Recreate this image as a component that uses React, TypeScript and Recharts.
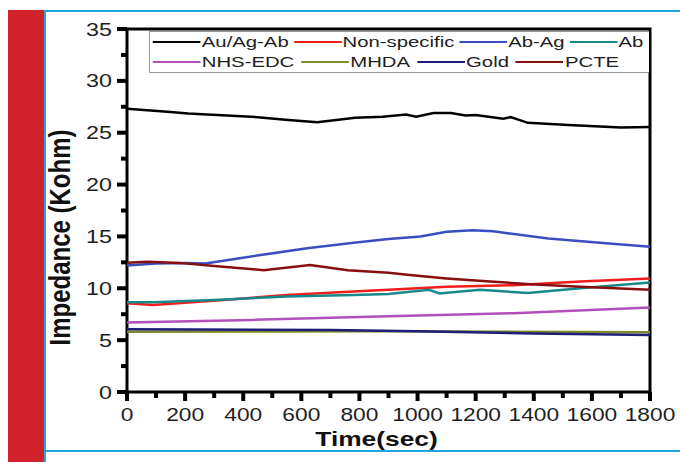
import React from 'react';
import { LineChart, Line, XAxis, YAxis, ReferenceArea } from 'recharts';

type Pt = { t: number; v: number };

// values (time in sec, impedance in Kohm)
const auAgAb: Pt[] = [
  { t: 0, v: 27.3 }, { t: 150, v: 27.0 }, { t: 210, v: 26.85 }, { t: 450, v: 26.5 },
  { t: 545, v: 26.25 }, { t: 655, v: 26.0 }, { t: 785, v: 26.45 }, { t: 880, v: 26.55 },
  { t: 960, v: 26.75 }, { t: 995, v: 26.55 }, { t: 1055, v: 26.9 }, { t: 1115, v: 26.9 },
  { t: 1165, v: 26.65 }, { t: 1200, v: 26.7 }, { t: 1295, v: 26.35 }, { t: 1320, v: 26.5 },
  { t: 1380, v: 25.95 }, { t: 1520, v: 25.75 }, { t: 1700, v: 25.5 }, { t: 1800, v: 25.55 },
];
const nonSpecific: Pt[] = [
  { t: 0, v: 8.55 }, { t: 90, v: 8.4 }, { t: 320, v: 8.85 }, { t: 550, v: 9.35 },
  { t: 780, v: 9.7 }, { t: 900, v: 9.85 }, { t: 1100, v: 10.15 }, { t: 1330, v: 10.3 },
  { t: 1560, v: 10.65 }, { t: 1800, v: 10.95 },
];
const abAg: Pt[] = [
  { t: 0, v: 12.2 }, { t: 100, v: 12.4 }, { t: 200, v: 12.45 }, { t: 270, v: 12.4 },
  { t: 460, v: 13.2 }, { t: 620, v: 13.85 }, { t: 780, v: 14.4 }, { t: 900, v: 14.75 },
  { t: 1010, v: 15.0 }, { t: 1100, v: 15.45 }, { t: 1190, v: 15.6 }, { t: 1260, v: 15.5 },
  { t: 1310, v: 15.3 }, { t: 1450, v: 14.8 }, { t: 1670, v: 14.3 }, { t: 1800, v: 14.0 },
];
const ab: Pt[] = [
  { t: 0, v: 8.65 }, { t: 90, v: 8.65 }, { t: 320, v: 8.9 }, { t: 550, v: 9.2 },
  { t: 780, v: 9.35 }, { t: 900, v: 9.45 }, { t: 1040, v: 9.85 }, { t: 1075, v: 9.5 },
  { t: 1215, v: 9.85 }, { t: 1380, v: 9.55 }, { t: 1560, v: 10.0 }, { t: 1800, v: 10.55 },
];
const nhsEdc: Pt[] = [
  { t: 0, v: 6.7 }, { t: 430, v: 6.95 }, { t: 900, v: 7.3 }, { t: 1330, v: 7.6 }, { t: 1800, v: 8.15 },
];
const mhda: Pt[] = [
  { t: 0, v: 5.8 }, { t: 900, v: 5.85 }, { t: 1800, v: 5.75 },
];
const gold: Pt[] = [
  { t: 0, v: 6.05 }, { t: 700, v: 5.98 }, { t: 1000, v: 5.85 }, { t: 1400, v: 5.65 }, { t: 1800, v: 5.5 },
];
const pcte: Pt[] = [
  { t: 0, v: 12.45 }, { t: 70, v: 12.55 }, { t: 180, v: 12.45 }, { t: 300, v: 12.15 },
  { t: 470, v: 11.75 }, { t: 630, v: 12.25 }, { t: 760, v: 11.75 }, { t: 900, v: 11.5 },
  { t: 965, v: 11.3 }, { t: 1100, v: 10.95 }, { t: 1250, v: 10.65 }, { t: 1390, v: 10.4 },
  { t: 1560, v: 10.15 }, { t: 1800, v: 9.85 },
];

const xTicks = [0, 100, 200, 300, 400, 500, 600, 700, 800, 900, 1000, 1100, 1200, 1300, 1400, 1500, 1600, 1700, 1800];
const xLabels = [0, 200, 400, 600, 800, 1000, 1200, 1400, 1600, 1800];
const yTicks = [0, 2.5, 5, 7.5, 10, 12.5, 15, 17.5, 20, 22.5, 25, 27.5, 30, 32.5, 35];
const yLabels = [0, 5, 10, 15, 20, 25, 30, 35];

const series = [
  { name: 'Au/Ag-Ab', data: auAgAb, color: '#000000' },
  { name: 'Non-specific', data: nonSpecific, color: '#f21d1d' },
  { name: 'Ab-Ag', data: abAg, color: '#3a4ec2' },
  { name: 'Ab', data: ab, color: '#16898a' },
  { name: 'NHS-EDC', data: nhsEdc, color: '#b34fba' },
  { name: 'MHDA', data: mhda, color: '#7f8a2c' },
  { name: 'Gold', data: gold, color: '#1f1f78' },
  { name: 'PCTE', data: pcte, color: '#860f10' },
];

const FONT = '"Liberation Sans", Arial, Helvetica, sans-serif';
const INK = '#1e1e1e';

// tick marks drawn as small rects, outward from the frame
const XTick = (props: any) => {
  const x = Number(props.x);
  const y = Number(props.y);
  const value = props.payload.value;
  const major = xLabels.includes(value);
  return (
    <g>
      <rect x={x - 2} y={y} width={4} height={major ? 9 : 6} fill="#000" />
      {major && (
        <g transform={`translate(${x},${y + 23}) scale(1.3,1)`}>
          <text textAnchor="middle" dominantBaseline="central" fontSize={17.5} fill={INK} fontFamily={FONT}>
            {value}
          </text>
        </g>
      )}
    </g>
  );
};

const YTick = (props: any) => {
  const x = Number(props.x);
  const y = Number(props.y);
  const value = props.payload.value;
  const major = yLabels.includes(value);
  const len = major ? 10 : 6;
  return (
    <g>
      <rect x={x - len} y={y - 2} width={len} height={4} fill="#000" />
      {major && (
        <g transform={`translate(${x - 15},${y}) scale(1.26,1)`}>
          <text textAnchor="end" dominantBaseline="central" fontSize={18.5} fill={INK} fontFamily={FONT}>
            {value}
          </text>
        </g>
      )}
    </g>
  );
};

const XTitle = (props: any) => {
  const { x, y, width } = props.viewBox;
  return (
    <g transform={`translate(${x + width / 2 - 12},${y + 54}) scale(1.35,1)`}>
      <text textAnchor="middle" fontSize={19.5} fontWeight="bold" fill="#111" fontFamily={FONT}>
        Time(sec)
      </text>
    </g>
  );
};

const YTitle = (props: any) => {
  const { x, y, height } = props.viewBox;
  return (
    <g transform={`translate(${x - 66},${y + height / 2 + 27}) scale(1.2,1) rotate(-90)`}>
      <text textAnchor="middle" dominantBaseline="central" fontSize={24} fontWeight="bold" fill="#111" fontFamily={FONT}>
        Impedance (Kohm)
      </text>
    </g>
  );
};

const LegendBox = () => (
  <div
    style={{
      position: 'absolute',
      left: 149,
      top: 31,
      width: 499,
      height: 40,
      borderTop: '1px solid #999',
      borderLeft: '1px solid #999',
      borderBottom: '1px solid #999',
      background: '#fff',
      overflow: 'hidden',
    }}
  >
    {[series.slice(0, 4), series.slice(4)].map((row, ri) => (
      <div
        key={ri}
        style={{
          display: 'flex',
          alignItems: 'center',
          height: 20,
          transform: 'scaleX(1.4)',
          transformOrigin: 'left center',
          fontFamily: FONT,
          fontSize: 14.5,
          color: INK,
          whiteSpace: 'nowrap',
          paddingLeft: 2,
        }}
      >
        {row.map((s) => (
          <div key={s.name} style={{ display: 'flex', alignItems: 'center', marginRight: ri === 0 ? 3.5 : 5 }}>
            <span style={{ display: 'inline-block', width: 34, height: 2.5, background: s.color }} />
            <span style={{ marginLeft: 1 }}>{s.name}</span>
          </div>
        ))}
      </div>
    ))}
  </div>
);

export default function App() {
  return (
    <div
      style={{
        position: 'fixed',
        left: 0,
        top: 0,
        width: 680,
        height: 462,
        background: '#fff',
        overflow: 'hidden',
      }}
    >
      {/* page decoration: red side band and light blue frame */}
      <div style={{ position: 'absolute', left: 8, top: 10, width: 36, height: 452, background: '#d1222b' }} />
      <div style={{ position: 'absolute', left: 44, top: 10, width: 2, height: 452, background: '#22a6e2' }} />
      <div style={{ position: 'absolute', left: 44, top: 10, width: 636, height: 2, background: '#22a6e2' }} />
      <div style={{ position: 'absolute', left: 44, top: 450, width: 636, height: 2, background: '#22a6e2' }} />

      <div style={{ position: 'absolute', left: 0, top: 0 }}>
        <LineChart width={680} height={462} margin={{ top: 29, right: 30, bottom: 69, left: 126 }}>
          <XAxis
            type="number"
            dataKey="t"
            domain={[0, 1800]}
            ticks={xTicks}
            interval={0}
            height={1}
            tickSize={0}
            tickMargin={0}
            tickLine={false}
            axisLine={false}
            tick={(p: any) => <XTick {...p} />}
            label={{ content: (p: any) => <XTitle {...p} /> }}
            allowDataOverflow
          />
          <YAxis
            type="number"
            dataKey="v"
            domain={[0, 35]}
            ticks={yTicks}
            interval={0}
            width={1}
            tickSize={0}
            tickMargin={0}
            tickLine={false}
            axisLine={false}
            tick={(p: any) => <YTick {...p} />}
            label={{ content: (p: any) => <YTitle {...p} /> }}
            allowDataOverflow
          />
          <ReferenceArea x1={0} x2={1800} y1={0} y2={35} fill="none" stroke="#000" strokeWidth={3} ifOverflow="visible" />
          {series.map((s) => (
            <Line
              key={s.name}
              data={s.data}
              dataKey="v"
              name={s.name}
              type="linear"
              stroke={s.color}
              strokeWidth={2.5}
              dot={false}
              activeDot={false}
              isAnimationActive={false}
            />
          ))}
        </LineChart>
      </div>

      <LegendBox />
    </div>
  );
}
